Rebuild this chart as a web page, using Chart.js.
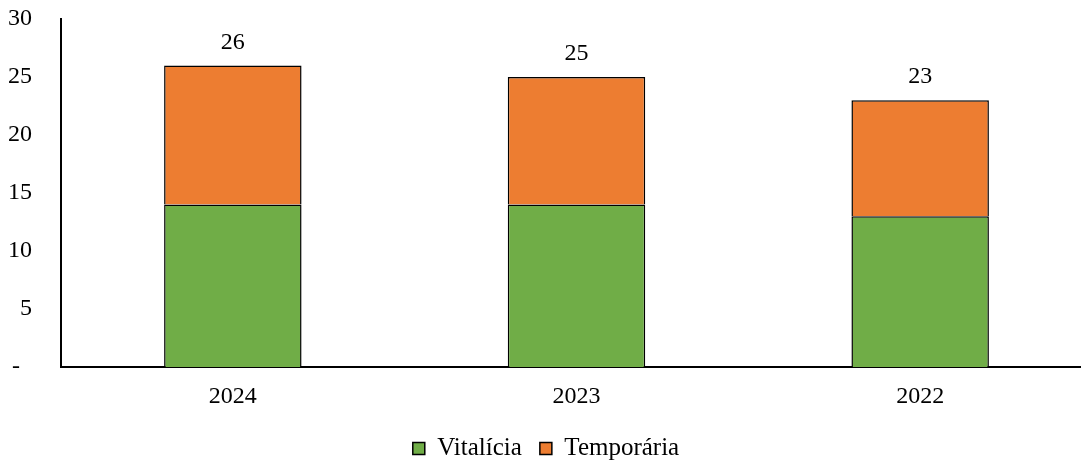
<!DOCTYPE html>
<html>
<head>
<meta charset="utf-8">
<script src="https://cdn.jsdelivr.net/npm/chart.js@4"></script>
<style>
  html, body { margin: 0; padding: 0; background: #fff; overflow: hidden; }
  #wrap { width: 1092px; height: 461px; }
</style>
</head>
<body>
<div id="wrap"><canvas id="grafico"></canvas></div>
<script>
// dados
const anos = ['2024', '2023', '2022'];
const vitalicia = [14, 14, 13];
const temporaria = [12, 11, 10];
const yTicks = [0, 5, 10, 15, 20, 25, 30];

const fonte = 'Liberation Serif, Times New Roman, serif';

// total no topo de cada coluna
const totais = {
  id: 'totais',
  afterDatasetsDraw(chart) {
    const ctx = chart.ctx;
    const x = chart.scales.x;
    const y = chart.scales.y;
    ctx.save();
    ctx.font = '24px ' + fonte;
    ctx.fillStyle = '#000';
    ctx.textAlign = 'center';
    ctx.textBaseline = 'middle';
    anos.forEach((a, i) => {
      const total = vitalicia[i] + temporaria[i];
      ctx.fillText(String(total), x.getPixelForValue(i), y.getPixelForValue(total) - 23);
    });
    ctx.restore();
  }
};

new Chart(document.getElementById('grafico'), {
  type: 'bar',
  data: {
    labels: anos,
    datasets: [
      {
        label: 'Vitalícia',
        data: vitalicia,
        backgroundColor: '#70AD47',
        borderColor: '#000',
        borderWidth: 1.5
      },
      {
        label: 'Temporária',
        data: temporaria,
        backgroundColor: '#ED7D31',
        borderColor: '#000',
        borderWidth: 1.5
      }
    ]
  },
  options: {
    responsive: true,
    maintainAspectRatio: false,
    animation: false,
    barPercentage: 0.4,
    categoryPercentage: 1,
    layout: { padding: { top: 19, left: 0, right: 0, bottom: -10 } },
    plugins: {
      legend: {
        position: 'bottom',
        labels: {
          color: '#000',
          font: { family: fonte, size: 25 },
          boxWidth: 12,
          boxHeight: 12,
          padding: 18
        }
      },
      tooltip: { enabled: false }
    },
    scales: {
      x: {
        stacked: true,
        afterFit(axis) { axis.height = 51; },
        grid: { display: false, drawTicks: false },
        border: { display: true, color: '#000', width: 2 },
        ticks: { color: '#000', font: { family: fonte, size: 24 }, padding: 15 }
      },
      y: {
        stacked: true,
        min: 0,
        max: 30,
        afterFit(axis) {
          axis.width = 61;
          axis.paddingTop = 0;
          axis.paddingBottom = 0;
        },
        afterBuildTicks(axis) { axis.ticks = yTicks.map(v => ({ value: v })); },
        grid: { display: false, drawTicks: false },
        border: { display: true, color: '#000', width: 2 },
        ticks: {
          color: '#000',
          font: { family: fonte, size: 24 },
          padding: 29,
          callback: v => v === 0 ? '-  ' : v
        }
      }
    }
  },
  plugins: [totais]
});
</script>
</body>
</html>
